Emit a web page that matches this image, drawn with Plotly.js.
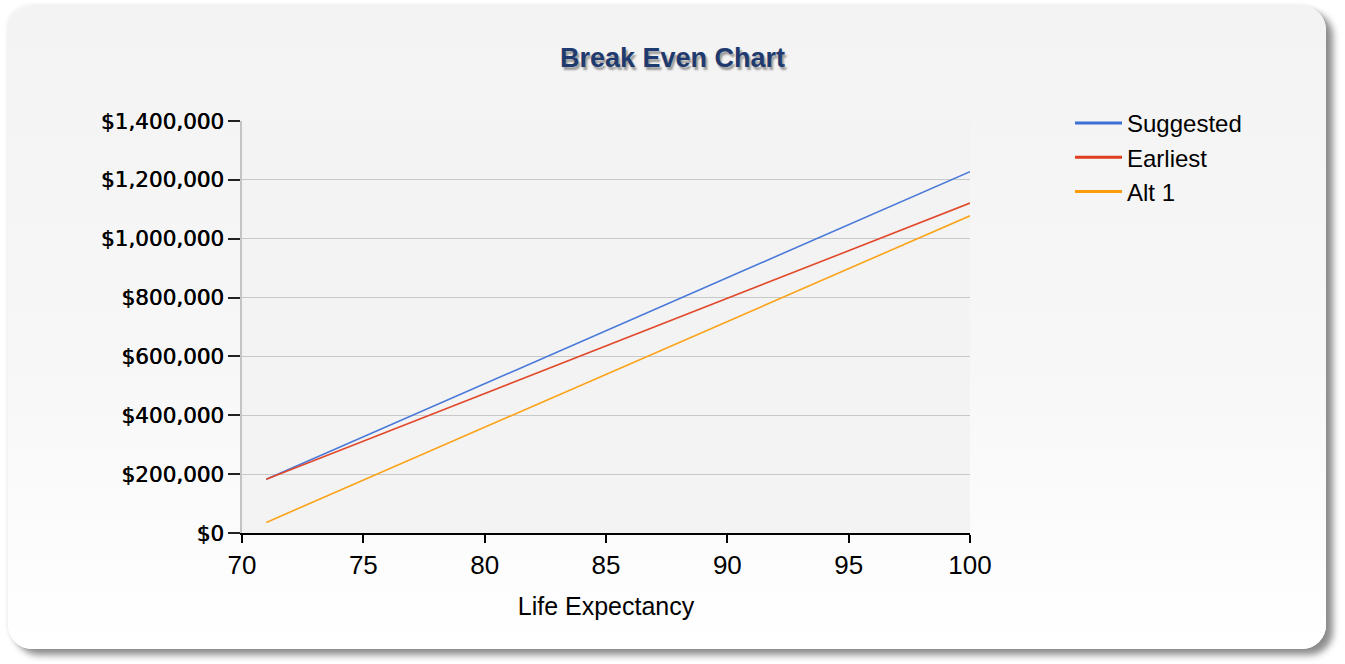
<!DOCTYPE html>
<html>
<head>
<meta charset="utf-8">
<script src="https://cdn.plot.ly/plotly-3.0.1.min.js"></script>
<style>
  html, body { margin: 0; padding: 0; background: #ffffff; width: 1345px; height: 664px; overflow: hidden; }
  #card {
    position: absolute; left: 8px; top: 6px; width: 1318px; height: 643px;
    border-radius: 24px;
    background: linear-gradient(to bottom, #f3f3f3 0%, #f7f7f7 55%, #ffffff 100%);
    box-shadow: 7px 6px 7px rgba(0,0,0,0.45), -1px -1px 4px rgba(0,0,0,0.08);
  }
  #chart { position: absolute; left: 0; top: 0; width: 1345px; height: 664px; }
</style>
</head>
<body>
<div id="card"></div>
<div id="chart"></div>
<script>
// Data
const lifeExpectancy = [71, 100];
const suggested = [183000, 1228000];
const earliest = [183000, 1121000];
const alt1 = [36000, 1078000];
const seriesNames = ["Suggested", "Earliest", "Alt 1"];
const yTickValues = [0, 200000, 400000, 600000, 800000, 1000000, 1200000, 1400000];
const yTickLabels = ["$0", "$200,000", "$400,000", "$600,000", "$800,000", "$1,000,000", "$1,200,000", "$1,400,000"];
const xTickValues = [70, 75, 80, 85, 90, 95, 100];

const plotColors = ["#4a7ad9", "#e2482b", "#fba318"];
const legendColors = ["#3d6fd6", "#e0401f", "#fd9c0a"];

const seriesValues = [suggested, earliest, alt1];

// Plotted lines (thin), legend hidden
const traces = seriesValues.map((ys, i) => ({
  type: "scatter",
  mode: "lines",
  name: seriesNames[i],
  legendgroup: seriesNames[i],
  showlegend: false,
  x: lifeExpectancy,
  y: ys,
  line: { color: plotColors[i], width: 1.6 },
  hoverinfo: "x+y+name"
}));

// Legend entries (thicker swatches), no visible marks in the plot
seriesNames.forEach((name, i) => {
  traces.push({
    type: "scatter",
    mode: "lines",
    name: name,
    legendgroup: name,
    showlegend: true,
    x: [null],
    y: [null],
    line: { color: legendColors[i], width: 3 },
    hoverinfo: "skip"
  });
});

const layout = {
  width: 1345,
  height: 664,
  paper_bgcolor: "rgba(0,0,0,0)",
  plot_bgcolor: "#f3f3f3",
  margin: { l: 242, r: 375, t: 121, b: 131, pad: 0 },
  showlegend: true,
  title: {
    text: "Break Even Chart",
    x: 0.5, xref: "container", xanchor: "center",
    y: 1 - 58 / 664, yref: "container", yanchor: "middle",
    font: { family: "Liberation Sans, Arial, sans-serif", size: 27, weight: "bold", color: "#1f3a6e", shadow: "2px 3px 2px #9a9a9a" }
  },
  xaxis: {
    range: [70, 100],
    tickmode: "array",
    tickvals: xTickValues,
    ticks: "outside",
    ticklen: 8,
    tickwidth: 1.5,
    tickcolor: "#000000",
    showline: true,
    linecolor: "#000000",
    linewidth: 1.5,
    showgrid: false,
    zeroline: false,
    tickfont: { family: "Liberation Sans Narrow, Liberation Sans, Arial, sans-serif", size: 26, color: "#000000" },
    title: {
      text: "Life Expectancy",
      standoff: 19,
      font: { family: "Liberation Sans, Arial, sans-serif", size: 25, color: "#000000" }
    },
    automargin: false,
    fixedrange: true
  },
  yaxis: {
    range: [0, 1400000],
    tickmode: "array",
    tickvals: yTickValues,
    ticktext: yTickLabels,
    ticks: "outside",
    ticklen: 12,
    tickwidth: 1.5,
    tickcolor: "#222222",
    showline: true,
    linecolor: "#c4c4c4",
    linewidth: 1.5,
    showgrid: true,
    gridcolor: "#c8c8c8",
    gridwidth: 1,
    zeroline: false,
    tickfont: { family: "DejaVu Sans, Verdana, sans-serif", size: 21.5, color: "#000000", shadow: "0.6px 0px 0px #000000" },
    automargin: false,
    fixedrange: true
  },
  legend: {
    xref: "container", yref: "container",
    x: 1070 / 1345, xanchor: "left",
    y: 1 - 101 / 664, yanchor: "top",
    bgcolor: "rgba(0,0,0,0)",
    font: { family: "Liberation Sans, Arial, sans-serif", size: 24, color: "#000000" },
    tracegroupgap: 0,
    itemwidth: 47
  }
};

Plotly.newPlot("chart", traces, layout, { displayModeBar: false, staticPlot: false });
</script>
</body>
</html>
